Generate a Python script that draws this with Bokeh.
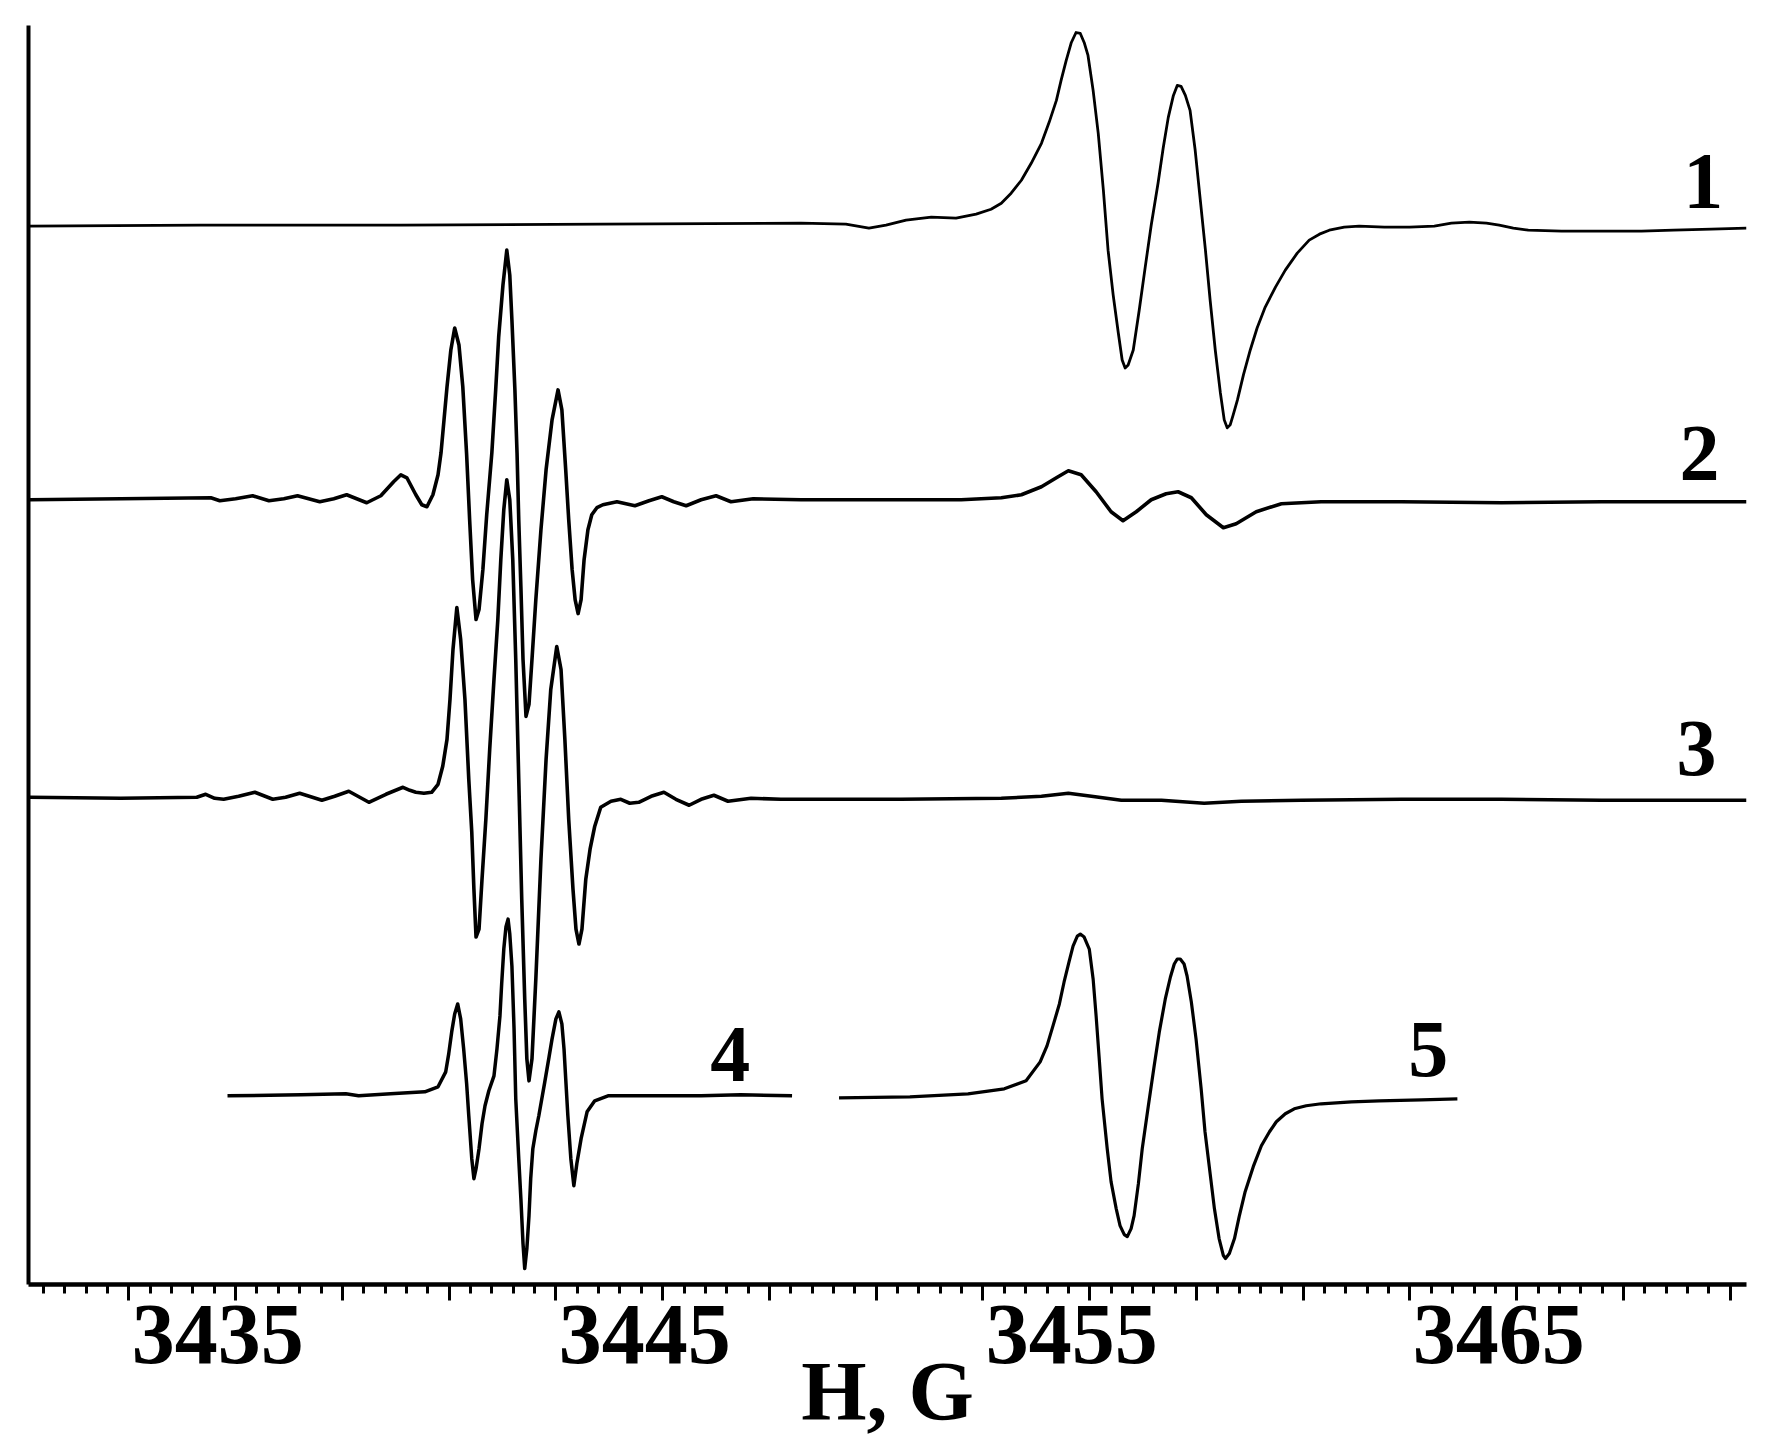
from bokeh.plotting import figure
from bokeh.models import Range1d, LinearAxis, FixedTicker
from bokeh.core.properties import value
from bokeh.embed import file_html
from bokeh.resources import INLINE

# ---------------- data (field H in gauss, signal in arbitrary units, spectra stacked) ----------------
field_1 = [3430.57, 3434.60, 3439.29, 3443.97, 3448.66, 3449.71, 3450.25, 3450.65, 3451.12, 3451.71,
           3452.29, 3452.76, 3453.11, 3453.35, 3453.58, 3453.82, 3454.05, 3454.29, 3454.47, 3454.64,
           3454.75, 3454.87, 3454.99, 3455.10, 3455.20, 3455.29, 3455.38, 3455.50, 3455.62, 3455.74,
           3455.85, 3455.97, 3456.09, 3456.18, 3456.25, 3456.32, 3456.44, 3456.58, 3456.72, 3456.86,
           3457.02, 3457.14, 3457.26, 3457.38, 3457.47, 3457.56, 3457.66, 3457.77, 3457.89, 3458.01,
           3458.13, 3458.24, 3458.36, 3458.48, 3458.57, 3458.64, 3458.71, 3458.78, 3458.88, 3459.02,
           3459.18, 3459.34, 3459.53, 3459.77, 3460.00, 3460.28, 3460.56, 3460.80, 3461.03, 3461.38,
           3461.73, 3462.32, 3462.91, 3463.49, 3463.89, 3464.31, 3464.71, 3465.01, 3465.34, 3465.69,
           3466.47, 3467.33, 3468.34, 3469.09, 3469.98, 3470.80]
signal_1 = [106.0, 106.1, 106.1, 106.2, 106.3, 106.2, 105.8, 106.1, 106.6, 106.9,
            106.8, 107.2, 107.7, 108.3, 109.3, 110.6, 112.3, 114.3, 116.4, 118.6,
            120.6, 122.6, 124.4, 125.4, 125.3, 124.4, 123.1, 119.6, 115.3, 109.6,
            103.6, 99.1, 95.3, 92.6, 91.8, 92.1, 93.6, 97.6, 101.9, 106.1,
            110.3, 113.8, 116.9, 119.1, 120.1, 120.0, 119.1, 117.6, 113.6, 108.6,
            103.6, 98.6, 93.6, 89.3, 86.6, 85.8, 86.1, 87.1, 88.6, 91.1,
            93.6, 95.8, 97.9, 99.9, 101.6, 103.3, 104.6, 105.2, 105.6, 105.9,
            106.0, 105.9, 105.9, 106.0, 106.3, 106.4, 106.3, 106.1, 105.8, 105.6,
            105.5, 105.5, 105.5, 105.6, 105.7, 105.8]

field_2 = [3430.60, 3432.73, 3434.84, 3435.05, 3435.42, 3435.82, 3436.20, 3436.55, 3436.87, 3437.39,
           3437.72, 3438.02, 3438.49, 3438.82, 3439.12, 3439.29, 3439.43, 3439.64, 3439.78, 3439.90,
           3440.04, 3440.16, 3440.23, 3440.30, 3440.37, 3440.46, 3440.55, 3440.65, 3440.74, 3440.83,
           3440.90, 3440.97, 3441.05, 3441.12, 3441.21, 3441.30, 3441.42, 3441.51, 3441.58, 3441.68,
           3441.77, 3441.84, 3441.89, 3441.96, 3442.01, 3442.05, 3442.10, 3442.15, 3442.22, 3442.29,
           3442.36, 3442.45, 3442.57, 3442.69, 3442.83, 3442.97, 3443.06, 3443.15, 3443.22, 3443.30,
           3443.37, 3443.44, 3443.51, 3443.58, 3443.67, 3443.76, 3443.88, 3444.02, 3444.35, 3444.56,
           3444.77, 3445.10, 3445.40, 3445.68, 3445.97, 3446.32, 3446.67, 3447.02, 3447.54, 3448.66,
           3451.00, 3452.41, 3453.35, 3453.82, 3454.29, 3454.64, 3454.92, 3455.22, 3455.57, 3455.92,
           3456.20, 3456.51, 3456.86, 3457.21, 3457.49, 3457.80, 3458.15, 3458.55, 3458.85, 3459.32,
           3459.91, 3460.84, 3462.72, 3465.06, 3467.40, 3470.80]
signal_2 = [78.6, 78.7, 78.8, 78.5, 78.7, 79.0, 78.5, 78.7, 79.0, 78.4,
            78.7, 79.1, 78.3, 79.0, 80.4, 81.1, 80.8, 79.1, 78.1, 77.9,
            79.1, 81.1, 83.3, 86.6, 89.9, 93.6, 95.8, 94.1, 89.9, 83.1,
            76.6, 70.6, 66.6, 67.6, 71.6, 77.1, 83.3, 89.6, 94.9, 100.1,
            103.6, 101.1, 96.6, 89.6, 83.3, 76.6, 69.9, 62.6, 56.9, 58.1,
            62.6, 68.6, 75.6, 81.6, 86.6, 89.6, 87.6, 81.6, 76.6, 71.6,
            68.6, 67.2, 68.6, 72.6, 75.6, 77.1, 77.8, 78.1, 78.4, 78.2,
            78.0, 78.5, 78.9, 78.4, 78.0, 78.6, 79.0, 78.4, 78.7, 78.6,
            78.6, 78.6, 78.8, 79.1, 79.9, 80.8, 81.5, 81.1, 79.4, 77.4,
            76.5, 77.4, 78.6, 79.2, 79.4, 78.8, 77.1, 75.8, 76.2, 77.4,
            78.2, 78.4, 78.4, 78.3, 78.4, 78.4]

field_3 = [3430.60, 3432.73, 3434.51, 3434.72, 3434.93, 3435.14, 3435.49, 3435.87, 3436.29, 3436.59,
           3436.92, 3437.44, 3437.74, 3438.07, 3438.54, 3438.94, 3439.34, 3439.50, 3439.64, 3439.83,
           3440.01, 3440.16, 3440.27, 3440.37, 3440.44, 3440.51, 3440.60, 3440.69, 3440.79, 3440.88,
           3440.95, 3441.00, 3441.05, 3441.12, 3441.19, 3441.28, 3441.37, 3441.47, 3441.56, 3441.63,
           3441.70, 3441.77, 3441.84, 3441.91, 3441.98, 3442.05, 3442.12, 3442.19, 3442.24, 3442.29,
           3442.36, 3442.45, 3442.57, 3442.69, 3442.80, 3442.94, 3443.04, 3443.13, 3443.22, 3443.32,
           3443.39, 3443.46, 3443.53, 3443.62, 3443.72, 3443.83, 3443.97, 3444.21, 3444.44, 3444.65,
           3444.86, 3445.15, 3445.45, 3445.73, 3446.04, 3446.32, 3446.62, 3446.95, 3447.49, 3448.19,
           3451.00, 3453.35, 3454.29, 3454.92, 3455.46, 3456.16, 3457.10, 3458.10, 3458.97, 3460.38,
           3462.72, 3465.06, 3467.40, 3470.80]
signal_3 = [48.8, 48.7, 48.8, 49.1, 48.7, 48.6, 48.9, 49.3, 48.6, 48.8,
            49.2, 48.5, 48.9, 49.4, 48.3, 49.1, 49.8, 49.5, 49.3, 49.2,
            49.3, 50.1, 51.9, 54.6, 58.6, 63.6, 67.8, 64.6, 58.6, 50.6,
            45.3, 39.6, 34.8, 35.6, 40.6, 46.6, 53.6, 60.6, 66.6, 72.6,
            77.6, 80.6, 78.6, 72.6, 62.6, 50.6, 38.6, 28.6, 22.6, 20.4,
            22.6, 30.6, 42.6, 52.6, 59.6, 63.9, 61.6, 54.6, 46.6, 39.6,
            35.6, 34.1, 35.6, 40.6, 43.6, 45.9, 47.8, 48.4, 48.6, 48.2,
            48.3, 48.9, 49.3, 48.6, 48.0, 48.6, 49.0, 48.4, 48.7, 48.6,
            48.6, 48.7, 48.9, 49.2, 48.9, 48.5, 48.5, 48.2, 48.4, 48.5,
            48.6, 48.6, 48.5, 48.5]

field_4 = [3435.23, 3436.95, 3438.00, 3438.30, 3439.05, 3439.85, 3440.16, 3440.34, 3440.41, 3440.48,
           3440.55, 3440.62, 3440.69, 3440.76, 3440.83, 3440.88, 3440.95, 3441.00, 3441.05, 3441.12,
           3441.19, 3441.26, 3441.35, 3441.47, 3441.54, 3441.61, 3441.65, 3441.70, 3441.75, 3441.80,
           3441.84, 3441.89, 3441.94, 3441.98, 3442.05, 3442.10, 3442.15, 3442.19, 3442.24, 3442.29,
           3442.33, 3442.38, 3442.45, 3442.52, 3442.66, 3442.76, 3442.83, 3442.92, 3442.99, 3443.06,
           3443.11, 3443.15, 3443.20, 3443.27, 3443.34, 3443.41, 3443.51, 3443.65, 3443.83, 3444.14,
           3445.29, 3446.32, 3447.25, 3448.45]
signal_4 = [18.9, 19.0, 19.1, 18.9, 19.1, 19.3, 19.8, 21.3, 23.1, 25.3,
            27.1, 28.1, 26.6, 23.6, 20.1, 16.9, 12.6, 10.6, 11.6, 13.6,
            16.1, 17.9, 19.4, 20.9, 23.6, 26.9, 30.1, 33.6, 35.8, 36.6,
            35.1, 31.9, 25.6, 18.6, 12.6, 8.6, 4.1, 1.6, 3.6, 6.9,
            10.6, 13.6, 15.4, 16.9, 20.3, 22.8, 24.6, 26.6, 27.3, 26.1,
            23.6, 20.6, 16.9, 12.6, 9.9, 12.1, 14.6, 17.3, 18.4, 18.9,
            18.9, 18.9, 19.0, 18.9]

field_5 = [3449.55, 3451.21, 3452.57, 3453.42, 3453.93, 3454.26, 3454.42, 3454.56, 3454.71, 3454.82,
           3454.94, 3455.03, 3455.13, 3455.20, 3455.29, 3455.41, 3455.50, 3455.57, 3455.64, 3455.71,
           3455.83, 3455.92, 3456.04, 3456.13, 3456.23, 3456.30, 3456.39, 3456.46, 3456.56, 3456.65,
           3456.79, 3456.93, 3457.05, 3457.19, 3457.31, 3457.40, 3457.47, 3457.54, 3457.63, 3457.70,
           3457.80, 3457.91, 3458.03, 3458.12, 3458.24, 3458.34, 3458.45, 3458.55, 3458.60, 3458.69,
           3458.81, 3458.92, 3459.06, 3459.25, 3459.44, 3459.63, 3459.79, 3460.00, 3460.21, 3460.49,
           3460.84, 3461.55, 3462.20, 3463.19, 3464.03]
signal_5 = [18.7, 18.8, 19.1, 19.6, 20.4, 22.3, 23.9, 25.9, 28.1, 30.3,
            32.4, 33.9, 34.9, 35.1, 34.8, 33.6, 30.6, 26.9, 22.8, 18.6,
            13.6, 10.3, 7.6, 5.9, 5.0, 4.8, 5.6, 6.9, 10.1, 13.6,
            17.8, 21.9, 25.3, 28.6, 30.8, 32.1, 32.6, 32.6, 32.1, 30.9,
            28.3, 24.6, 19.6, 15.3, 11.1, 7.6, 4.6, 2.9, 2.6, 3.1,
            4.6, 6.8, 9.3, 11.8, 13.9, 15.3, 16.3, 17.1, 17.6, 17.9,
            18.1, 18.3, 18.4, 18.5, 18.6]

curve_labels = ["1", "2", "3", "4", "5"]
label_field = [3469.79, 3469.70, 3469.63, 3447.00, 3463.35]
label_signal = [110.5, 83.2, 53.7, 23.0, 23.5]

tick_label_values = [3435, 3445, 3455, 3465]
major_tick_start = 3432.92
major_tick_step = 2.5
minor_tick_step = 0.5

# ---------------- figure ----------------
FONT = "Liberation Serif"

p = figure(width=1770, height=1440,
           x_range=Range1d(3430.57, 3470.80), y_range=Range1d(0, 126.1),
           x_axis_location=None, y_axis_location=None,
           output_backend="svg", toolbar_location=None,
           min_border_left=28, min_border_right=24, min_border_top=25, min_border_bottom=154)
p.outline_line_color = None
p.xgrid.visible = False
p.ygrid.visible = False
p.background_fill_color = "white"
p.border_fill_color = "white"

# left axis: plain line only
yax = LinearAxis(ticker=FixedTicker(ticks=[]), axis_line_width=4, axis_line_color="black",
                 major_tick_out=0, major_tick_in=0, minor_tick_out=0, minor_tick_in=0,
                 major_label_standoff=0)
p.add_layout(yax, "left")

# bottom axis with major/minor tick marks
major_ticks = []
t = major_tick_start
while t <= 3470.8:
    major_ticks.append(round(t, 3))
    t += major_tick_step
minor_ticks = []
t = major_tick_start - 5 * minor_tick_step
while t <= 3470.8:
    minor_ticks.append(round(t, 3))
    t += minor_tick_step

xax = LinearAxis(ticker=FixedTicker(ticks=major_ticks, minor_ticks=minor_ticks),
                 axis_line_width=4.5, axis_line_color="black",
                 major_tick_out=16, major_tick_in=0, minor_tick_out=9, minor_tick_in=0,
                 major_tick_line_width=3, minor_tick_line_width=3,
                 major_label_overrides={t: "" for t in major_ticks},
                 major_label_text_font_size="1px", major_label_standoff=0)
p.add_layout(xax, "below")

# labels of the field axis
xlab = LinearAxis(ticker=FixedTicker(ticks=tick_label_values, minor_ticks=[]),
                  axis_line_color=None, major_tick_line_color=None, minor_tick_line_color=None,
                  major_tick_out=0, major_tick_in=0, minor_tick_out=0, minor_tick_in=0,
                  major_label_overrides={v: str(v) for v in tick_label_values},
                  major_label_text_font=FONT, major_label_text_font_style="bold",
                  major_label_text_font_size="86px", major_label_text_color="black",
                  major_label_standoff=5,
                  axis_label="H, G", axis_label_text_font=FONT, axis_label_text_font_style="bold",
                  axis_label_text_font_size="84px", axis_label_text_color="black",
                  axis_label_standoff=-21)
p.add_layout(xlab, "below")

# spectra
p.line(field_1, signal_1, line_color="black", line_width=2.8, line_join="round")
p.line(field_2, signal_2, line_color="black", line_width=3.6, line_join="round")
p.line(field_3, signal_3, line_color="black", line_width=3.6, line_join="round")
p.line(field_4, signal_4, line_color="black", line_width=3.5, line_join="round")
p.line(field_5, signal_5, line_color="black", line_width=3.2, line_join="round")

p.text(x=label_field, y=label_signal, text=curve_labels,
       text_font=value(FONT), text_font_style="bold", text_font_size="80px",
       text_align="center", text_baseline="alphabetic", text_color="black")

open("out.html", "w").write(file_html(p, INLINE))
